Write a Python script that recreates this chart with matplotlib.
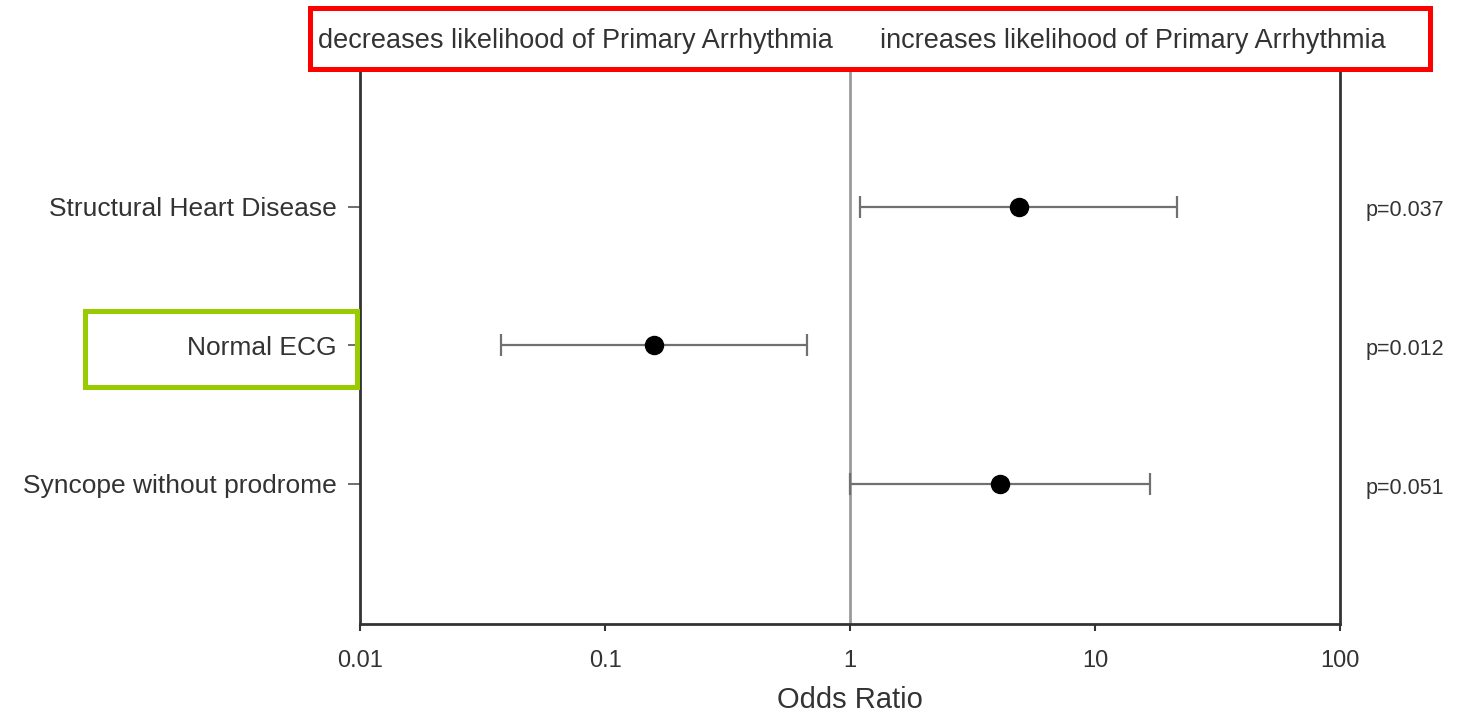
import matplotlib
matplotlib.use("Agg")
import matplotlib.pyplot as plt
from matplotlib.patches import Rectangle
import numpy as np

plt.rcParams['font.family'] = ['Liberation Sans', 'DejaVu Sans']

categories = ["Structural Heart Disease", "Normal ECG", "Syncope without prodrome"]
odds_ratio = [4.9, 0.158, 4.1]
ci_lower = [1.1, 0.0375, 1.0]
ci_upper = [21.6, 0.667, 16.8]
p_labels = ["p=0.037", "p=0.012", "p=0.051"]
x_ticks = [0.01, 0.1, 1, 10, 100]
x_tick_labels = ["0.01", "0.1", "1", "10", "100"]
header_left = "decreases likelihood of Primary Arrhythmia"
header_right = "increases likelihood of Primary Arrhythmia"

W, H = 1471, 716
fig = plt.figure(figsize=(W / 100, H / 100), dpi=100)
ax = fig.add_axes([360 / W, 1 - 624 / H, 980 / W, 552 / H])

ypos = np.arange(len(categories), 0, -1)
or_arr = np.array(odds_ratio)
err = np.array([or_arr - np.array(ci_lower), np.array(ci_upper) - or_arr])

ax.axvline(1, color='#9a9a9a', lw=2, zorder=1)
ax.errorbar(or_arr, ypos, xerr=err, fmt='o', color='black', ms=13,
            ecolor='#707070', elinewidth=1.6, capsize=8, capthick=1.6, zorder=3)

ax.set_xscale('log')
ax.set_xlim(0.01, 100)
ax.set_ylim(-0.01, 3.97)
ax.set_xticks(x_ticks)
ax.set_xticklabels(x_tick_labels)
ax.xaxis.set_minor_locator(matplotlib.ticker.NullLocator())
ax.set_yticks(ypos)
ax.set_yticklabels(categories)

ax.tick_params(axis='x', direction='out', length=5, width=1.5, colors='#333333',
               labelsize=17, labelcolor='#333333', pad=14)
ax.tick_params(axis='y', direction='out', length=9, width=1.2, colors='#555555',
               labelsize=19, labelcolor='#333333', pad=8)

for s in ['left', 'right', 'bottom']:
    ax.spines[s].set_color('#333333')
    ax.spines[s].set_linewidth(2)
ax.spines['top'].set_visible(False)

ax.set_xlabel("Odds Ratio", fontsize=21, color='#333333', labelpad=10)

for y, p in zip(ypos, p_labels):
    ax.text(1.066, y - 0.03, p, transform=ax.get_yaxis_transform(), ha='center',
            va='center', fontsize=15.5, color='#333333')

# header box
fig.patches.append(Rectangle((310 / W, 1 - 69 / H), 1120 / W, 61 / H,
                             transform=fig.transFigure, fill=False,
                             edgecolor='#ff0000', lw=3.6, zorder=5))
fig.text(575 / W, 1 - 41 / H, header_left, ha='center', va='center',
         fontsize=19.5, color='#333333')
fig.text(1133 / W, 1 - 41 / H, header_right, ha='center', va='center',
         fontsize=19.5, color='#333333')

# highlight box
fig.patches.append(Rectangle((84.5 / W, 1 - 386.5 / H), 272 / W, 76 / H,
                             transform=fig.transFigure, fill=False,
                             edgecolor='#99cc00', lw=3.6, zorder=5))

fig.savefig("out.png", dpi=100, facecolor='white')
